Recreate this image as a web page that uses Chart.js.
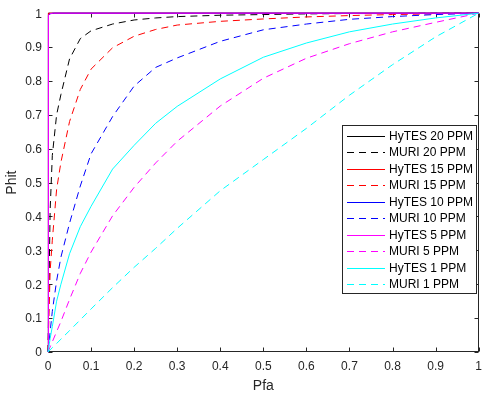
<!DOCTYPE html>
<html>
<head>
<meta charset="utf-8">
<script src="https://cdn.jsdelivr.net/npm/chart.js@4/dist/chart.umd.min.js"></script>
<style>
html,body{margin:0;padding:0;background:#fff;}
#wrap{width:489px;height:399px;}
</style>
</head>
<body>
<div id="wrap"><canvas id="c" width="489" height="399"></canvas></div>
<script>
// ---- data ----
const pfa      = [0, 0.005, 0.01, 0.02, 0.03, 0.05, 0.075, 0.1, 0.15, 0.2, 0.25, 0.3, 0.4, 0.5, 0.6, 0.7, 0.8, 0.9, 1];
const muri20   = [0, 0.42, 0.58, 0.70, 0.76, 0.865, 0.925, 0.948, 0.968, 0.98, 0.986, 0.99, 0.994, 0.996, 0.998, 0.999, 0.999, 1, 1];
const muri15   = [0, 0.24, 0.33, 0.48, 0.56, 0.68, 0.775, 0.835, 0.898, 0.932, 0.952, 0.965, 0.976, 0.983, 0.989, 0.993, 0.996, 0.998, 1];
const muri10   = [0, 0.06, 0.12, 0.21, 0.28, 0.38, 0.49, 0.585, 0.695, 0.785, 0.84, 0.868, 0.917, 0.951, 0.968, 0.982, 0.99, 0.996, 1];
const muri5    = [0, 0.015, 0.03, 0.06, 0.09, 0.155, 0.232, 0.295, 0.402, 0.486, 0.558, 0.622, 0.726, 0.808, 0.867, 0.91, 0.945, 0.973, 1];
const hytes1   = [0, 0.04, 0.075, 0.15, 0.2, 0.29, 0.37, 0.43, 0.54, 0.61, 0.675, 0.725, 0.806, 0.87, 0.912, 0.945, 0.968, 0.986, 1];
const muri1    = [0, 0.006, 0.013, 0.025, 0.038, 0.063, 0.095, 0.127, 0.19, 0.25, 0.306, 0.365, 0.476, 0.568, 0.66, 0.758, 0.848, 0.93, 1];
const stepPfa  = [0, 0, 0.002, 0.005, 0.012, 1];
const hytes20  = [0, 1, 1, 1, 1, 1];
const hytes15  = [0, 0.995, 1, 1, 1, 1];
const hytes10  = [0, 0.98, 0.993, 0.998, 1, 1];
const hytes5   = [0, 0.985, 0.995, 0.999, 1, 1];
const seriesNames = ['HyTES 20 PPM','MURI 20 PPM','HyTES 15 PPM','MURI 15 PPM','HyTES 10 PPM','MURI 10 PPM','HyTES 5 PPM','MURI 5 PPM','HyTES 1 PPM','MURI 1 PPM'];
const xTickLabels = ['0','0.1','0.2','0.3','0.4','0.5','0.6','0.7','0.8','0.9','1'];
const yTickLabels = ['0','0.1','0.2','0.3','0.4','0.5','0.6','0.7','0.8','0.9','1'];

// ---- styles ----
const seriesX = [stepPfa, pfa, stepPfa, pfa, stepPfa, pfa, stepPfa, pfa, pfa, pfa];
const seriesY = [hytes20, muri20, hytes15, muri15, hytes10, muri10, hytes5, muri5, hytes1, muri1];
const colors = ['#000000','#000000','#ff0000','#ff0000','#0000ff','#0000ff','#ff00ff','#ff00ff','#00ffff','#00ffff'];
const dashed = [false,true,false,true,false,true,false,true,false,true];
const DASH = [7,5];
const AXC = '#262626';
const FONT = '"Liberation Sans", Arial, sans-serif';

const datasets = seriesNames.map((name, i) => ({
  label: name,
  data: seriesX[i].map((x, j) => ({x: x, y: seriesY[i][j]})),
  showLine: true,
  borderColor: colors[i],
  backgroundColor: colors[i],
  borderWidth: 1,
  borderDash: dashed[i] ? DASH : [],
  pointRadius: 0,
  pointHoverRadius: 0,
  tension: 0,
  fill: false,
  clip: false,
  order: -i
}));

const boxPlugin = {
  id: 'matlabBox',
  beforeDatasetsDraw(chart) {
    const {ctx, chartArea: a, scales} = chart;
    const L = Math.round(a.left) + 0.5, R = Math.round(a.right) - 0.5;
    const T = Math.round(a.top) + 0.5, B = Math.round(a.bottom) - 0.5;
    ctx.save();
    ctx.strokeStyle = AXC;
    ctx.lineWidth = 1;
    ctx.strokeRect(L, T, R - L, B - T);
    const tl = 4;
    ctx.beginPath();
    scales.x.ticks.forEach(t => {
      const px = Math.round(scales.x.getPixelForValue(t.value)) + 0.5;
      ctx.moveTo(px, B); ctx.lineTo(px, B - tl);
      ctx.moveTo(px, T); ctx.lineTo(px, T + tl);
    });
    scales.y.ticks.forEach(t => {
      const py = Math.round(scales.y.getPixelForValue(t.value)) + 0.5;
      ctx.moveTo(L, py); ctx.lineTo(L + tl, py);
      ctx.moveTo(R, py); ctx.lineTo(R - tl, py);
    });
    ctx.stroke();
    ctx.restore();
  }
};

const legendPlugin = {
  id: 'matlabLegend',
  afterDraw(chart) {
    const ctx = chart.ctx;
    const bx = 342.5, by = 125.5, bw = 134, bh = 168;
    ctx.save();
    ctx.fillStyle = '#ffffff';
    ctx.fillRect(bx, by, bw, bh);
    ctx.strokeStyle = AXC;
    ctx.lineWidth = 1;
    ctx.strokeRect(bx, by, bw, bh);
    ctx.font = '12px ' + FONT;
    ctx.textBaseline = 'middle';
    ctx.textAlign = 'left';
    seriesNames.forEach((name, i) => {
      const y = Math.round(135.7 + i * 16.5) + 0.5;
      ctx.beginPath();
      ctx.strokeStyle = colors[i];
      ctx.setLineDash(dashed[i] ? DASH : []);
      ctx.moveTo(347, y); ctx.lineTo(385, y);
      ctx.stroke();
      ctx.setLineDash([]);
      ctx.fillStyle = '#000000';
      ctx.fillText(name, 389, y + 0.5);
    });
    ctx.restore();
  }
};

new Chart(document.getElementById('c'), {
  type: 'scatter',
  data: { datasets },
  options: {
    responsive: false,
    animation: false,
    events: [],
    layout: { padding: { top: 9, right: 8, left: 0, bottom: 0 } },
    plugins: { legend: { display: false }, tooltip: { enabled: false } },
    scales: {
      x: {
        type: 'linear', min: 0, max: 1,
        afterFit(s) { s.height = 47; },
        grid: { display: false, drawTicks: false },
        border: { display: false },
        ticks: {
          stepSize: 0.1, padding: 7, color: AXC, maxRotation: 0, autoSkip: false,
          font: { family: FONT, size: 12 },
          callback: (v, i) => xTickLabels[i]
        },
        title: { display: true, text: 'Pfa', color: AXC, padding: { top: 0, bottom: 4 },
          font: { family: FONT, size: 14 } }
      },
      y: {
        type: 'linear', min: 0, max: 1,
        afterFit(s) { s.width = 48; },
        grid: { display: false, drawTicks: false },
        border: { display: false },
        ticks: {
          stepSize: 0.1, padding: 6, color: AXC, autoSkip: false, labelOffset: 1,
          font: { family: FONT, size: 12 },
          callback: (v, i) => yTickLabels[i]
        },
        title: { display: true, text: 'Phit', color: AXC, padding: { top: 4, bottom: 0 },
          font: { family: FONT, size: 14 } }
      }
    }
  },
  plugins: [boxPlugin, legendPlugin]
});
</script>
</body>
</html>
